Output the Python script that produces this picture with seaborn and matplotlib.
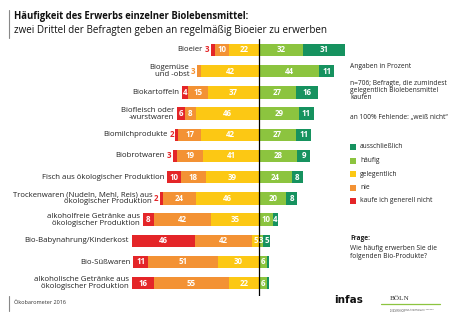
import matplotlib
matplotlib.use('Agg')
import matplotlib.pyplot as plt
from matplotlib.patches import Rectangle
from matplotlib.lines import Line2D
import seaborn as sns
import pandas as pd

categories = [
    "Bioeier",
    "Biogemüse\nund -obst",
    "Biokartoffeln",
    "Biofleisch oder\n-wurstwaren",
    "Biomilchprodukte",
    "Biobrotwaren",
    "Fisch aus ökologischer Produktion",
    "Trockenwaren (Nudeln, Mehl, Reis) aus\nökologischer Produktion",
    "alkoholfreie Getränke aus\nökologischer Produktion",
    "Bio-Babynahrung/Kinderkost",
    "Bio-Süßwaren",
    "alkoholische Getränke aus\nökologischer Produktion",
]
kaufe_nicht = [3, 0, 4, 6, 2, 3, 10, 2, 8, 46, 11, 16]
nie = [10, 3, 15, 8, 17, 19, 18, 24, 42, 42, 51, 55]
gelegentlich = [22, 42, 37, 46, 42, 41, 39, 46, 35, 5, 30, 22]
haeufig = [32, 44, 27, 29, 27, 28, 24, 20, 10, 3, 6, 6]
ausschliesslich = [31, 11, 16, 11, 11, 9, 8, 8, 4, 5, 1, 1]

legend_labels = ["ausschließlich", "häufig", "gelegentlich", "nie", "kaufe ich generell nicht"]

RED = "#E42528"
ORANGE = "#F39234"
YELLOW = "#FCC814"
LGREEN = "#8CC43F"
DGREEN = "#16925F"

sns.set_style("white")
plt.rcParams['font.family'] = ['Open Sans', 'DejaVu Sans']

W, H = 466, 322
fig = plt.figure(figsize=(W / 100, H / 100), dpi=100)

def fx(px):
    return px / W

def fy(py):
    return 1 - py / H

scale = 1.37
ax_top, ax_bot = 39, 296
ax = fig.add_axes([0, fy(ax_bot), 1, (ax_bot - ax_top) / H])

df = pd.DataFrame({
    "cat": categories,
    "r": kaufe_nicht, "o": nie, "y": gelegentlich, "lg": haeufig, "dg": ausschliesslich,
})
df["neg_all"] = -(df.r + df.o + df.y)
df["neg_oy"] = -(df.o + df.y)
df["neg_y"] = -df.y
df["pos_all"] = df.lg + df.dg
df["pos_lg"] = df.lg

bw = 0.58
for col, colr in [("neg_all", RED), ("neg_oy", ORANGE), ("neg_y", YELLOW),
                  ("pos_all", DGREEN), ("pos_lg", LGREEN)]:
    sns.barplot(data=df, x=col, y="cat", orient="h", color=colr, width=bw,
                errorbar=None, saturation=1, ax=ax, linewidth=0)

ax.set_xlim(-259 / scale, (W - 259) / scale)
row_first, row_step = 50, 21.2
ax.set_ylim(11 + (ax_bot - (row_first + 11 * row_step)) / row_step,
            -(row_first - ax_top) / row_step)
ax.axis("off")
ax.axvline(0, color="black", lw=0.9)

fs_num = 5.7
for i, cat in enumerate(categories):
    r, o, y, lg, dg = kaufe_nicht[i], nie[i], gelegentlich[i], haeufig[i], ausschliesslich[i]
    segs_left = [(r, -(r + o + y), RED), (o, -(o + y), ORANGE), (y, -y, YELLOW)]
    left_end = -(r + o + y)
    outside = None
    for v, start, c in segs_left:
        if v == 0:
            continue
        if v < 4:
            if start == left_end:
                outside = (v, c)
            continue
        ax.text(start + v / 2, i, str(v), color="white", fontsize=fs_num,
                fontweight="bold", ha="center", va="center")
    if lg >= 3:
        ax.text(lg / 2, i, str(lg), color="white", fontsize=fs_num,
                fontweight="bold", ha="center", va="center")
    if dg >= 3:
        ax.text(lg + dg / 2, i, str(dg), color="white", fontsize=fs_num,
                fontweight="bold", ha="center", va="center")
    lab_x = left_end - 2.0
    if outside is not None:
        ax.text(left_end - 1.3, i, str(outside[0]), color=outside[1], fontsize=fs_num,
                fontweight="bold", ha="right", va="center")
        lab_x = left_end - 6.0
    ax.text(lab_x, i, cat, fontsize=5.55, ha="right", va="center",
            multialignment="right", color="#222222", linespacing=1.0)

# Title
fig.text(fx(14), fy(16), "Häufigkeit des Erwerbs einzelner Biolebensmittel:",
         fontsize=6.85, fontweight="bold", ha="left", va="center", color="#111111")
fig.text(fx(14), fy(30), "zwei Drittel der Befragten geben an regelmäßig Bioeier zu erwerben",
         fontsize=7.15, ha="left", va="center", color="#111111")
fig.add_artist(Line2D([fx(9), fx(9)], [fy(10), fy(38)], color="#888888", lw=0.8))

# Notes
note_fs = 4.8
fig.text(fx(350), fy(66), "Angaben in Prozent", fontsize=note_fs, ha="left", va="center", color="#222222")
fig.text(fx(350), fy(91), "n=706; Befragte, die zumindest\ngelegentlich Biolebensmittel\nkaufen",
         fontsize=note_fs, ha="left", va="center", color="#222222", linespacing=1.0)
fig.text(fx(350), fy(117), "an 100% Fehlende: „weiß nicht“", fontsize=note_fs, ha="left",
         va="center", color="#222222")

legend_colors = [DGREEN, LGREEN, YELLOW, ORANGE, RED]
for k, (lab, c) in enumerate(zip(legend_labels, legend_colors)):
    yy = 147 + k * 13.5
    fig.add_artist(Rectangle((fx(350), fy(yy + 3)), 6 / W, 6 / H, transform=fig.transFigure,
                             facecolor=c, edgecolor="none"))
    fig.text(fx(360), fy(yy), lab, fontsize=note_fs, ha="left", va="center", color="#222222")

fig.text(fx(350), fy(239), "Frage:", fontsize=note_fs, fontweight="bold", ha="left",
         va="center", color="#222222")
fig.text(fx(350), fy(252.5), "Wie häufig erwerben Sie die\nfolgenden Bio-Produkte?",
         fontsize=note_fs, ha="left", va="center", color="#222222", linespacing=1.0)

# Footer
fig.add_artist(Line2D([fx(9), fx(9)], [fy(296), fy(311)], color="#888888", lw=0.8))
fig.text(fx(14), fy(303), "Ökobarometer 2016", fontsize=4.0, ha="left", va="center", color="#333333")
fig.text(fx(334), fy(300), "infas", fontsize=7.5, fontweight="bold", ha="left", va="center",
         color="#111111", family=["Liberation Sans Narrow", "DejaVu Sans"])
fig.text(fx(390), fy(298), "BÖLN", fontsize=5.2, ha="left", va="center", color="#333333",
         family=["Liberation Serif", "DejaVu Serif"])
fig.add_artist(Line2D([fx(381), fx(440)], [fy(304), fy(304)], color="#8CC43F", lw=0.9))
fig.text(fx(390), fy(310), "Bundesprogramm Ökologischer Landbau\nund andere Formen nachhaltiger\nLandwirtschaft",
         fontsize=1.6, ha="left", va="center", color="#555555", linespacing=1.0)

fig.savefig("out.png", dpi=100)
